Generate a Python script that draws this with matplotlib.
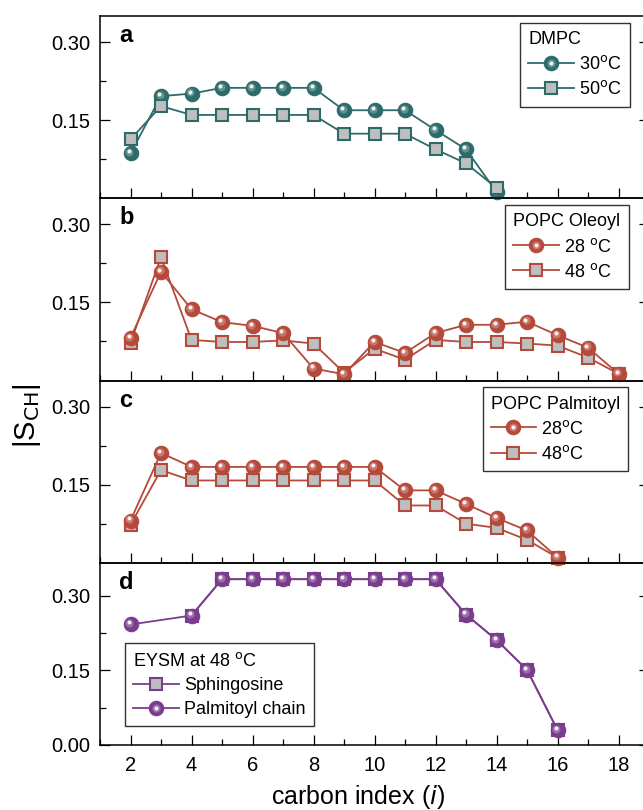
import matplotlib.pyplot as plt
from matplotlib.ticker import MultipleLocator
from matplotlib.transforms import offset_copy
from matplotlib.legend_handler import HandlerTuple
from matplotlib.lines import Line2D

plt.rcParams['font.family'] = ['Liberation Sans', 'DejaVu Sans']
plt.rcParams['mathtext.default'] = 'regular'

teal = '#2d6b6b'
red = '#b54a3b'
purple = '#7a3d8d'
gray = '#bebebe'

# --- data ---
dmpc_x = list(range(2, 15))
dmpc_30 = [0.086, 0.196, 0.201, 0.212, 0.212, 0.212, 0.212, 0.169, 0.169, 0.169, 0.131, 0.094, 0.012]
dmpc_50 = [0.113, 0.177, 0.160, 0.160, 0.160, 0.160, 0.160, 0.124, 0.124, 0.124, 0.094, 0.067, 0.020]

oleoyl_x = list(range(2, 19))
oleoyl_28 = [0.082, 0.209, 0.137, 0.112, 0.105, 0.091, 0.023, 0.012, 0.074, 0.053,
             0.091, 0.107, 0.107, 0.113, 0.087, 0.063, 0.013]
oleoyl_48 = [0.072, 0.237, 0.078, 0.074, 0.074, 0.077, 0.071, 0.015, 0.061, 0.040,
             0.078, 0.074, 0.074, 0.071, 0.067, 0.044, 0.013]

palm_x = list(range(2, 17))
palm_28 = [0.081, 0.211, 0.184, 0.184, 0.184, 0.184, 0.184, 0.184, 0.184,
           0.139, 0.139, 0.113, 0.086, 0.062, 0.010]
palm_48 = [0.073, 0.178, 0.158, 0.158, 0.158, 0.158, 0.158, 0.158, 0.158,
           0.110, 0.110, 0.075, 0.067, 0.044, 0.010]

eysm_sph_x = list(range(4, 17))
eysm_sph = [0.260, 0.333, 0.333, 0.333, 0.333, 0.333, 0.333, 0.333, 0.333,
            0.262, 0.211, 0.151, 0.030]
eysm_pal_x = [2] + list(range(4, 17))
eysm_pal = [0.242, 0.260, 0.333, 0.333, 0.333, 0.333, 0.333, 0.333, 0.333, 0.333,
            0.262, 0.211, 0.151, 0.030]

MS_C = 10.4
MS_S = 9.0
LW = 1.3


def sphere_series(ax, x, y, color, z):
    ln, = ax.plot(x, y, '-o', color=color, lw=LW, ms=MS_C, mfc=color, mec=color,
                  mew=0.8, zorder=z, clip_on=False)
    tr1 = offset_copy(ax.transData, fig=ax.figure, x=-0.8, y=0.9, units='points')
    tr2 = offset_copy(ax.transData, fig=ax.figure, x=-1.3, y=1.5, units='points')
    ax.plot(x, y, 'o', ms=5.8, mfc='white', mec='none', alpha=0.25, transform=tr1,
            zorder=z + 0.1, clip_on=False)
    ax.plot(x, y, 'o', ms=2.9, mfc='white', mec='none', alpha=0.9, transform=tr2,
            zorder=z + 0.2, clip_on=False)
    hl1 = Line2D([], [], ls='none', marker='o', ms=5.8, mfc='white', mec='none', alpha=0.25)
    hl2 = Line2D([], [], ls='none', marker='o', ms=2.9, mfc='white', mec='none', alpha=0.9)
    return (ln, hl1, hl2)


def square_series(ax, x, y, color, z):
    ln, = ax.plot(x, y, '-s', color=color, lw=LW, ms=MS_S, mfc=gray, mec=color,
                  mew=1.5, zorder=z, clip_on=False)
    return ln


fig = plt.figure(figsize=(6.43, 8.10), dpi=100)
left = 100 / 643
width = 549 / 643
bottom = 65 / 810
h = 182.25 / 810
axes = []
for k in range(4):
    ax = fig.add_axes([left, bottom + (3 - k) * h, width, h])
    ax.set_facecolor('none')
    axes.append(ax)

ax_a, ax_b, ax_c, ax_d = axes

leg_kw = dict(fontsize=13, title_fontsize=13, alignment='left', frameon=True,
              fancybox=False, edgecolor='#333333', framealpha=1, borderaxespad=0,
              handlelength=2.5, handletextpad=0.3, labelspacing=0.4,
              borderpad=0.45, handler_map={tuple: HandlerTuple(ndivide=1)})

# panel a
ha1 = sphere_series(ax_a, dmpc_x, dmpc_30, teal, 3)
ha2 = square_series(ax_a, dmpc_x, dmpc_50, teal, 4)
lg = ax_a.legend([ha1, ha2], ['30$^{\\rm o}$C', '50$^{\\rm o}$C'], title='DMPC',
                 loc='upper right', bbox_to_anchor=(0.965, 0.962), **leg_kw)
lg.get_frame().set_linewidth(1.0)

# panel b
hb2 = square_series(ax_b, oleoyl_x, oleoyl_48, red, 3)
hb1 = sphere_series(ax_b, oleoyl_x, oleoyl_28, red, 4)
lg = ax_b.legend([hb1, hb2], ['28 $^{\\rm o}$C', '48 $^{\\rm o}$C'], title='POPC Oleoyl',
                 loc='upper right', bbox_to_anchor=(0.963, 0.962), **leg_kw)
lg.get_frame().set_linewidth(1.0)

# panel c
hc2 = square_series(ax_c, palm_x, palm_48, red, 3)
hc1 = sphere_series(ax_c, palm_x, palm_28, red, 4)
lg = ax_c.legend([hc1, hc2], ['28$^{\\rm o}$C', '48$^{\\rm o}$C'], title='POPC Palmitoyl',
                 loc='upper right', bbox_to_anchor=(0.962, 0.962), **leg_kw)
lg.get_frame().set_linewidth(1.0)

# panel d
hd1 = square_series(ax_d, eysm_sph_x, eysm_sph, purple, 3)
hd2 = sphere_series(ax_d, eysm_pal_x, eysm_pal, purple, 4)
lg = ax_d.legend([hd1, hd2], ['Sphingosine', 'Palmitoyl chain'], title='EYSM at 48 $^{\\rm o}$C',
                 loc='upper left', bbox_to_anchor=(0.046, 0.557), **leg_kw)
lg.get_frame().set_linewidth(1.0)

for ax, letter in zip(axes, 'abcd'):
    ax.set_xlim(1, 19)
    ax.xaxis.set_major_locator(MultipleLocator(2))
    ax.xaxis.set_minor_locator(MultipleLocator(1))
    ax.set_yticks([0.075, 0.225], minor=True)
    ax.tick_params(which='both', direction='in', right=True, top=False,
                   width=0.9, labelsize=14.5)
    ax.tick_params(which='major', length=7)
    ax.tick_params(which='minor', length=4)
    ax.tick_params(axis='y', pad=7)
    ax.tick_params(axis='x', pad=8)
    for s in ax.spines.values():
        s.set_linewidth(1.1)
    ax.text(0.035, 0.955, letter, transform=ax.transAxes, fontsize=17,
            fontweight='bold', ha='left', va='top')
    if ax is not ax_d:
        ax.set_ylim(0, 0.35)
        ax.set_yticks([0.15, 0.30])
        ax.set_yticklabels(['0.15', '0.30'])
        ax.tick_params(axis='x', labelbottom=False)
    else:
        ax.set_ylim(0, 0.366)
        ax.set_yticks([0.0, 0.15, 0.30])
        ax.set_yticklabels(['0.00', '0.15', '0.30'])

fig.text(358 / 643, 1 - 797 / 810, 'carbon index ($\\mathit{i}$)', fontsize=18,
         ha='center', va='center')
fig.text(27.5 / 643, 1 - 416 / 810, '|S$_{\\rm CH}$|', fontsize=21, rotation=90,
         ha='center', va='center')

fig.savefig('out.png', dpi=100)
